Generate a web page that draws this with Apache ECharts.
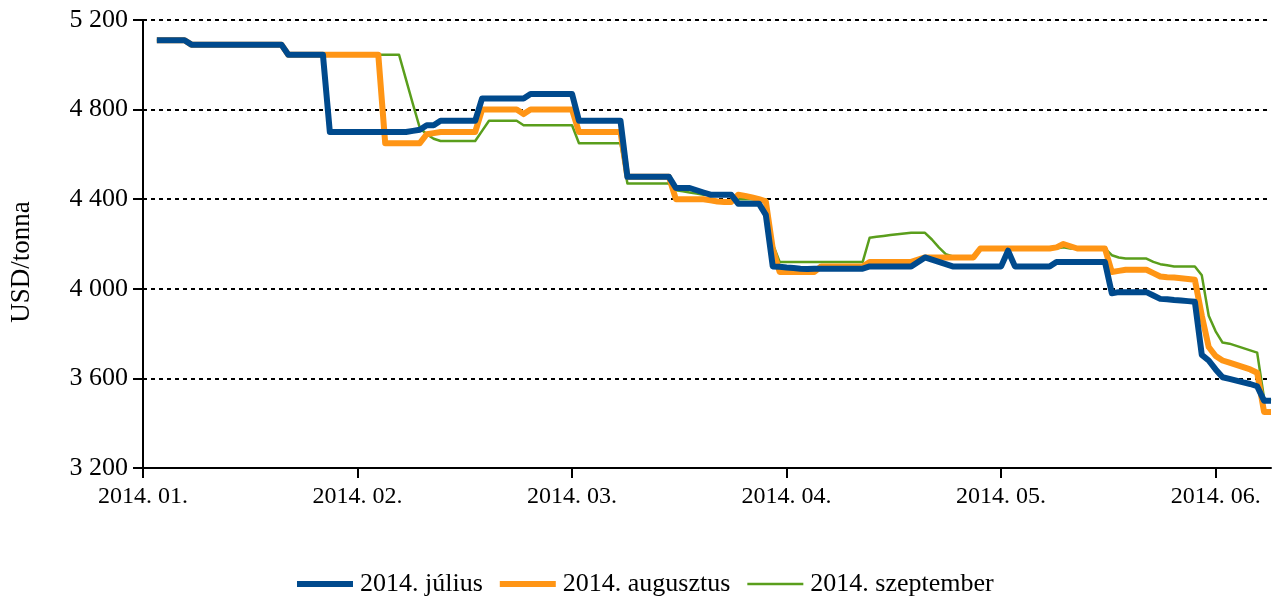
<!DOCTYPE html>
<html>
<head>
<meta charset="utf-8">
<script src="https://cdn.jsdelivr.net/npm/echarts@6/dist/echarts.min.js"></script>
<style>
  html, body { margin: 0; padding: 0; background: #fff; }
  #chart { width: 1275px; height: 600px; }
</style>
</head>
<body>
<div id="chart"></div>
<script>
// Daily copper quotes (USD/tonna), one value per calendar day from 2014-01-01
const startDate = new Date(2014, 0, 1);
const dayCount = 164;

// Month labels shown every 31 days along the axis
const tickLabels = ['2014. 01.', '2014. 02.', '2014. 03.', '2014. 04.', '2014. 05.', '2014. 06.'];
const tickEvery = 31;

const seriesNames = ['2014. július', '2014. augusztus', '2014. szeptember'];

const julius = [
  null, null,
  5110, 5110, 5110, 5110, 5110,
  5090, 5090, 5090, 5090, 5090, 5090, 5090, 5090, 5090, 5090, 5090, 5090, 5090, 5090,
  5045, 5045, 5045, 5045, 5045, 5045,
  4700, 4700, 4700, 4700, 4700, 4700, 4700, 4700, 4700, 4700, 4700,
  4700, 4705, 4710,
  4730, 4730,
  4750, 4750, 4750, 4750, 4750, 4750,
  4850, 4850, 4850, 4850, 4850, 4850, 4850,
  4870, 4870, 4870, 4870, 4870, 4870, 4870,
  4750, 4750, 4750, 4750, 4750, 4750, 4750,
  4500, 4500, 4500, 4500, 4500, 4500, 4500,
  4450, 4450, 4450,
  4440, 4430,
  4420, 4420, 4420, 4420,
  4380, 4380, 4380, 4380,
  4330,
  4100,
  4098, 4095, 4093, 4090, 4088,
  4090, 4090, 4090, 4090, 4090, 4090, 4090, 4090,
  4100, 4100, 4100, 4100, 4100, 4100, 4100,
  4120, 4140,
  4130, 4120, 4110,
  4100, 4100, 4100, 4100, 4100, 4100, 4100, 4100,
  4170,
  4100, 4100, 4100, 4100, 4100, 4100,
  4120, 4120, 4120, 4120, 4120, 4120, 4120, 4120,
  3980,
  3985, 3985, 3985, 3985, 3985,
  3970,
  3955,
  3953, 3950, 3948, 3945, 3942,
  3705, 3680, 3640, 3605,
  3598, 3590, 3582, 3575,
  3565,
  3500, 3500
];

const augusztus = [
  null, null,
  5110, 5110, 5110, 5110, 5110,
  5090, 5090, 5090, 5090, 5090, 5090, 5090, 5090, 5090, 5090, 5090, 5090, 5090, 5090,
  5045, 5045, 5045, 5045, 5045, 5045, 5045, 5045, 5045, 5045, 5045, 5045, 5045, 5045,
  4650, 4650, 4650, 4650, 4650, 4650,
  4690, 4695,
  4700, 4700, 4700, 4700, 4700, 4700,
  4800, 4800, 4800, 4800, 4800, 4800,
  4780,
  4800, 4800, 4800, 4800, 4800, 4800, 4800,
  4700, 4700, 4700, 4700, 4700, 4700, 4700,
  4500, 4500, 4500, 4500, 4500, 4500, 4500,
  4400, 4400, 4400, 4400, 4400,
  4395, 4390, 4388, 4388,
  4420, 4415, 4408, 4400, 4390,
  4180,
  4075, 4075, 4075, 4075, 4075, 4075,
  4100, 4100, 4100, 4100, 4100, 4100, 4100,
  4120, 4120, 4120, 4120, 4120, 4120, 4120,
  4130,
  4140, 4140, 4140, 4140, 4140, 4140, 4140, 4140,
  4180, 4180, 4180, 4180, 4180, 4180, 4180, 4180, 4180, 4180, 4180,
  4185, 4200, 4190,
  4180, 4180, 4180, 4180, 4180,
  4075, 4080,
  4085, 4085, 4085, 4085,
  4070, 4055,
  4052, 4050, 4047, 4044, 4040,
  3880, 3740, 3700, 3680,
  3670, 3660, 3650, 3640,
  3625,
  3450, 3450
];

const szeptember = [
  null, null,
  5110, 5110, 5110, 5110, 5110,
  5090, 5090, 5090, 5090, 5090, 5090, 5090, 5090, 5090, 5090, 5090, 5090, 5090, 5090,
  5045, 5045, 5045, 5045, 5045, 5045, 5045, 5045, 5045, 5045, 5045, 5045, 5045, 5045, 5045, 5045, 5045,
  4935, 4825, 4718, 4690, 4670,
  4660, 4660, 4660, 4660, 4660, 4660,
  4705,
  4750, 4750, 4750, 4750, 4750,
  4730, 4730, 4730, 4730, 4730, 4730, 4730, 4730,
  4650, 4650, 4650, 4650, 4650, 4650, 4650,
  4470, 4470, 4470, 4470, 4470, 4470, 4470,
  4440, 4435, 4430, 4425,
  4420, 4420, 4420, 4420, 4420,
  4400, 4400, 4400, 4400, 4400,
  4200,
  4120, 4120, 4120, 4120, 4120, 4120, 4120, 4120, 4120, 4120, 4120, 4120, 4120,
  4228, 4232, 4236, 4240, 4244, 4247,
  4250, 4250, 4250,
  4220, 4185, 4155, 4145,
  4140, 4140, 4140,
  4180, 4180, 4180, 4180, 4180, 4180, 4180, 4180, 4180, 4180, 4180, 4180,
  4185,
  4180, 4180, 4180, 4180, 4180, 4180,
  4150, 4140,
  4135, 4135, 4135, 4135,
  4120, 4110, 4105,
  4100, 4100, 4100, 4100,
  4060, 3880, 3810, 3760,
  3755, 3745, 3735, 3725, 3715,
  3510, 3500
];

const colors = ['#004a8d', '#ff9515', '#5a9e1c'];
const widths = [6, 6, 2.5];
// Legend swatches: thick bars for the first two series, a thin bar for the third
const legendIcons = ['rect', 'rect', 'path://M0,0H58V2.5H0Z'];

// Category axis: one entry per calendar day
const days = [];
for (let i = 0; i < dayCount; i++) {
  const d = new Date(startDate.getTime() + i * 86400000);
  days.push(d.getFullYear() + '-' + String(d.getMonth() + 1).padStart(2, '0') + '-' + String(d.getDate()).padStart(2, '0'));
}

const fontFamily = '"Liberation Serif", "Times New Roman", serif';
// Thousands separated by a space, e.g. "5 200"
const thousands = v => String(v).replace(/\B(?=(\d{3})+(?!\d))/g, ' ');

const chart = echarts.init(document.getElementById('chart'), null, { renderer: 'canvas' });

const seriesData = [julius, augusztus, szeptember];
chart.setOption({
  animation: false,
  color: colors,
  textStyle: { fontFamily: fontFamily, color: '#000' },
  grid: { left: 143, right: 4, top: 20, bottom: 132, containLabel: false },
  legend: {
    top: 566,
    left: 292,
    itemWidth: 56,
    itemHeight: 6,
    itemGap: 17,
    symbolKeepAspect: true,
    textStyle: { fontFamily: fontFamily, fontSize: 26, color: '#000', padding: [0, 0, 0, 2] },
    data: seriesNames.map((n, k) => ({ name: n, icon: legendIcons[k] }))
  },
  xAxis: {
    type: 'category',
    data: days,
    boundaryGap: false,
    axisLine: { show: true, lineStyle: { color: '#000', width: 2 } },
    axisTick: {
      show: true,
      length: 10,
      interval: (idx) => idx % tickEvery === 0,
      lineStyle: { color: '#000', width: 2 }
    },
    axisLabel: {
      interval: (idx) => idx % tickEvery === 0,
      formatter: (val, idx) => tickLabels[idx / tickEvery] || '',
      fontFamily: fontFamily,
      fontSize: 24,
      color: '#000',
      margin: 17
    },
    splitLine: { show: false }
  },
  yAxis: {
    type: 'value',
    min: 3200,
    max: 5200,
    interval: 400,
    name: 'USD/tonna',
    nameLocation: 'middle',
    nameGap: 108,
    nameRotate: 90,
    nameTextStyle: { fontFamily: fontFamily, fontSize: 27, color: '#000', padding: [0, 36, 0, 0] },
    axisLine: { show: true, lineStyle: { color: '#000', width: 2 } },
    axisTick: { show: true, length: 10, lineStyle: { color: '#000', width: 2 } },
    axisLabel: {
      formatter: thousands,
      fontFamily: fontFamily,
      fontSize: 26,
      color: '#000',
      margin: 15
    },
    splitLine: { show: true, lineStyle: { color: '#000', width: 2, type: [4, 4] } }
  },
  series: seriesNames.map((name, k) => ({
    name: name,
    type: 'line',
    data: seriesData[k],
    showSymbol: false,
    symbol: 'none',
    connectNulls: false,
    z: 10 - k,
    lineStyle: { width: widths[k], color: colors[k], join: 'round', cap: 'butt' },
    itemStyle: { color: colors[k] },
    emphasis: { disabled: true }
  }))
});
</script>
</body>
</html>
